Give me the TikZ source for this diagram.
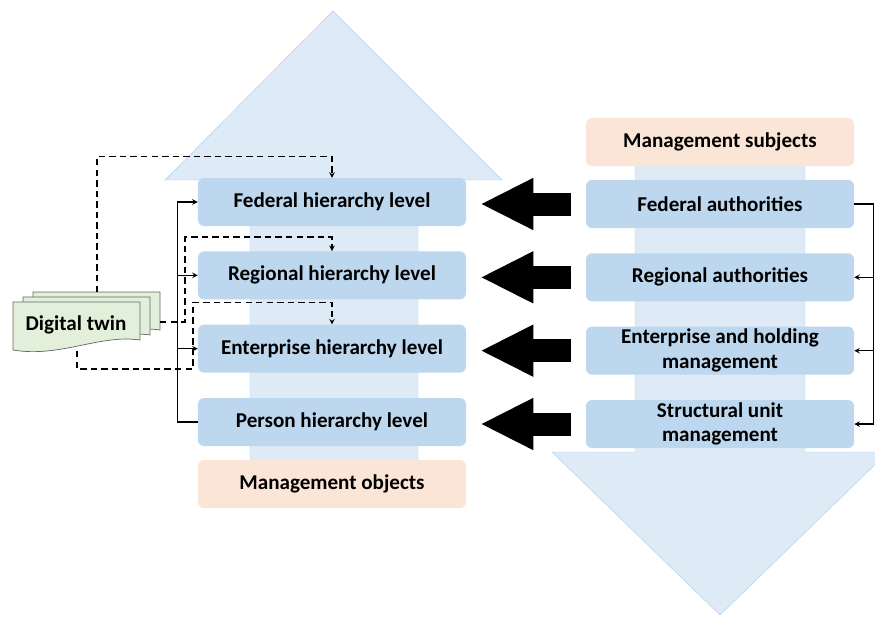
\documentclass[tikz,border=0pt]{standalone}
\usepackage{fontspec}
\setmainfont{Carlito}
\usepackage{tikz}
\usetikzlibrary{arrows.meta}
\definecolor{levelblue}{HTML}{BDD7EE}
\definecolor{flowblue}{HTML}{DEEBF7}
\definecolor{flowedge}{HTML}{B4CDE8}
\definecolor{peach}{HTML}{FBE5D6}
\definecolor{twingreen}{HTML}{E2EFDA}

\begin{document}
\begin{tikzpicture}[x=0.03cm, y=-0.03cm, node distance=2.2cm,
	level/.style={rectangle, rounded corners=0.18cm, fill=levelblue, minimum width=8.04cm, minimum height=1.44cm, inner sep=2pt, align=center, font=\fontsize{18}{21}\selectfont\bfseries},
	side/.style={level, fill=peach},
	link/.style={->, >=stealth, line width=1.1pt},
	dlink/.style={->, >=stealth, line width=1.1pt, dash pattern=on 5.5pt off 3.5pt},
	push/.style={line width=0.69cm, -{Triangle[width=1.44cm, length=1.59cm]}, shorten <=0.45cm, shorten >=0.42cm}]
	\useasboundingbox (0,0) rectangle (875,617);
	\clip (0,0) rectangle (875,617);

	% big flow arrows
	\filldraw[fill=flowblue, draw=flowedge] (333,11) -- (502,180) -- (418,180) -- (418,480) -- (250,480) -- (250,180) -- (165,180) -- cycle;
	\filldraw[fill=flowblue, draw=flowedge] (720,615) -- (888,452) -- (805,452) -- (805,140) -- (635,140) -- (635,452) -- (552,452) -- cycle;

	% management objects
	\node[level] (fed) at (332,202) {Federal hierarchy level};
	\node[level, below of=fed] (reg) {Regional hierarchy level};
	\node[level, below of=reg] (ent) {Enterprise hierarchy level};
	\node[level, below of=ent] (per) {Person hierarchy level};
	\node[side, below of=per, yshift=0.34cm] (obj) {Management objects};

	% management subjects
	\node[level] (fa) at (720,204) {Federal authorities};
	\node[level, below of=fa] (ra) {Regional authorities};
	\node[level, below of=ra] (eh) {Enterprise and holding\\management};
	\node[level, below of=eh] (su) {Structural unit\\management};
	\node[side, above of=fa, yshift=-0.34cm] (subj) {Management subjects};

	\foreach \s/\t in {fa/fed, ra/reg, eh/ent, su/per}
		\draw[push] (\s.west) -- (\s.west -| \t.east);

	\draw[link] (per.west) -- ++(-20,0) |- (fed.west);
	\coordinate (lbus) at ([xshift=-0.6cm]per.west);
	\draw[link] (lbus |- reg.west) -- (reg.west);
	\draw[link] (lbus |- ent.west) -- (ent.west);

	\draw[link] (fa.east) -- ++(19,0) |- (su.east);
	\coordinate (rbus) at ([xshift=0.57cm]fa.east);
	\draw[link] (rbus |- ra.east) -- (ra.east);
	\draw[link] (rbus |- eh.east) -- (eh.east);

	% digital twin
	\foreach \d in {20,10,0}
		\filldraw[fill=twingreen, draw=gray!80!black, line width=0.6pt] (13+\d,302-\d/2) -- (140+\d,302-\d/2) -- (140+\d,340-\d/2) .. controls (100+\d,334-\d/2) and (60+\d,358-\d/2) .. (13+\d,350-\d/2) -- cycle;
	\node[font=\fontsize{18}{21}\selectfont\bfseries] (dt) at (76,325) {Digital twin};
	\coordinate (dttop) at (97,292);
	\coordinate (dtright) at (160,322);
	\coordinate (dtbot) at (77,351);

	\draw[dlink] (dttop) |- ([yshift=0.63cm]fed.north) -- (fed.north);
	\draw[dlink] (dtright) -- ++(25,0) |- ([yshift=0.42cm]reg.north) -- (reg.north);
	\draw[dlink] (dtbot) -- ++(0,18) -- ++(116,0) |- ([yshift=0.66cm]ent.north) -- (ent.north);
\end{tikzpicture}
\end{document}
